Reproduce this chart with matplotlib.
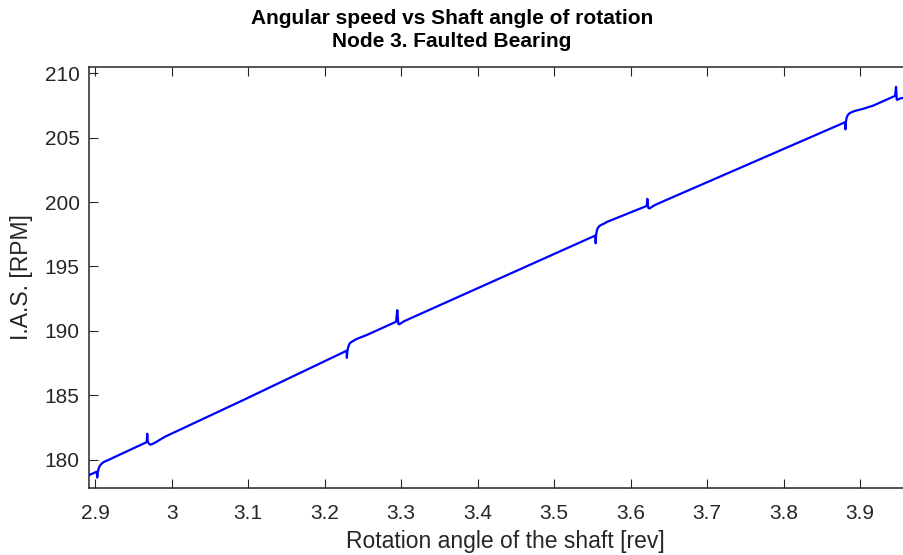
import matplotlib
matplotlib.use("Agg")
import matplotlib.pyplot as plt

# Data
x_rev = [2.8923, 2.9000, 2.9020, 2.9027, 2.9034, 2.9045, 2.9060, 2.9080, 2.9110, 2.9167,
         2.9673, 2.9680, 2.9687, 2.9700, 2.9720, 2.9745, 2.9780, 2.9912, 3.0936,
         3.2286, 3.2290, 3.2296, 3.2306, 3.2320, 3.2340, 3.2370, 3.2410, 3.2549,
         3.2932, 3.2949, 3.2962, 3.2975, 3.3000, 3.3040, 3.3246,
         3.5537, 3.5542, 3.5548, 3.5558, 3.5572, 3.5592, 3.5622, 3.5660, 3.5686,
         3.6209, 3.6217, 3.6230, 3.6245, 3.6270, 3.6310, 3.6464,
         3.8801, 3.8806, 3.8812, 3.8822, 3.8836, 3.8856, 3.8886, 3.8930, 3.9041,
         3.9172, 3.9455, 3.9468, 3.9477, 3.9490, 3.9520, 3.9572]
ias_rpm = [178.8, 179.0, 179.05, 178.6, 179.0, 179.3, 179.5, 179.65, 179.8, 179.95,
           181.35, 182.0, 181.4, 181.25, 181.15, 181.2, 181.3, 181.77, 184.62,
           188.45, 187.9, 188.4, 188.7, 188.95, 189.1, 189.2, 189.35, 189.67,
           190.7, 191.6, 190.55, 190.5, 190.6, 190.75, 191.3,
           197.4, 196.8, 197.45, 197.8, 198.0, 198.15, 198.25, 198.35, 198.45,
           199.7, 200.25, 199.55, 199.5, 199.6, 199.75, 200.16,
           206.2, 205.65, 206.2, 206.55, 206.75, 206.88, 206.98, 207.08, 207.25,
           207.5, 208.25, 208.95, 207.95, 207.95, 208.05, 208.1]

x_ticks = [2.9, 3.0, 3.1, 3.2, 3.3, 3.4, 3.5, 3.6, 3.7, 3.8, 3.9]
x_tick_labels = ["2.9", "3", "3.1", "3.2", "3.3", "3.4", "3.5", "3.6", "3.7", "3.8", "3.9"]
y_ticks = [180, 185, 190, 195, 200, 205, 210]

plt.rcParams['font.family'] = ['Liberation Sans', 'DejaVu Sans']
dark = '#262626'

fig = plt.figure(figsize=(9.04, 5.55), dpi=100)
ax = fig.add_axes([89.3 / 904, 67.3 / 555, 1 - 89.3 / 904 + 0.02, (487.7 - 67.3) / 555])

ax.plot(x_rev, ias_rpm, color='#0000ff', linewidth=1.6, solid_joinstyle='round')

ax.set_xlim(2.8923, 3.9572 + 0.02 * 904 / 765)
ax.set_ylim(177.81, 210.47)
ax.set_xticks(x_ticks)
ax.set_xticklabels(x_tick_labels)
ax.set_yticks(y_ticks)

for s in ax.spines.values():
    s.set_color(dark)
    s.set_linewidth(1.1)
ax.tick_params(direction='in', length=6.5, width=0.8, colors=dark, labelsize=15,
               top=True, right=True)
ax.tick_params(axis='x', pad=12)
ax.tick_params(axis='y', pad=7)

ax.set_xlabel("Rotation angle of the shaft [rev]", fontsize=16.5, color=dark, labelpad=5)
ax.set_ylabel("I.A.S. [RPM]", fontsize=16.5, color=dark, labelpad=8)

fig.text(0.5, 1 - 19 / 555, "Angular speed vs Shaft angle of rotation", ha='center', va='center',
         fontsize=15, fontweight='bold', color='black')
fig.text(0.5, 1 - 41.5 / 555, "Node 3. Faulted Bearing", ha='center', va='center',
         fontsize=15, fontweight='bold', color='black')

fig.savefig("out.png", dpi=100)
